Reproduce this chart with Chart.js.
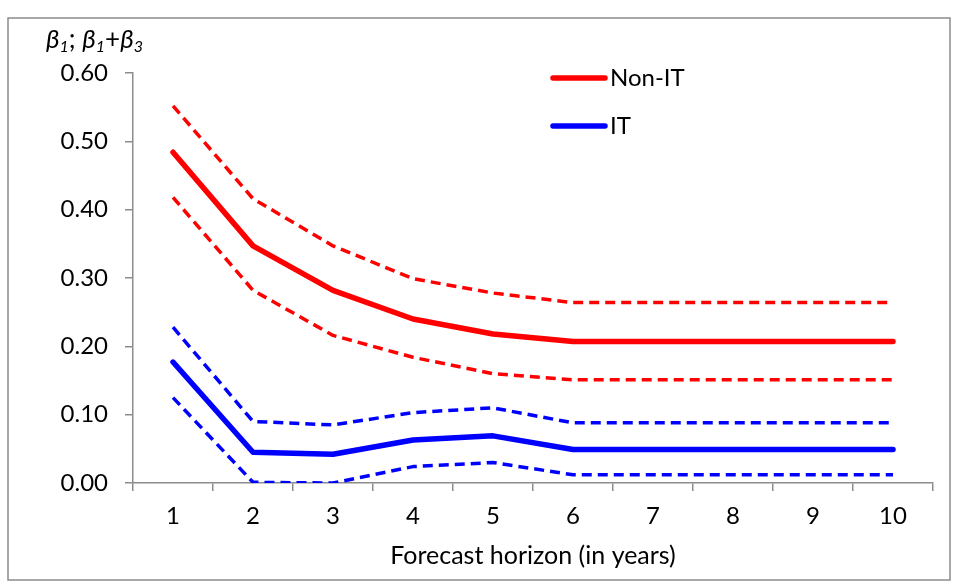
<!DOCTYPE html>
<html lang="en">
<head>
  <meta charset="UTF-8" />
  <title>Forecast horizon chart</title>
  <script src="https://cdn.jsdelivr.net/npm/chart.js"></script>
  <style>
    html, body { margin: 0; padding: 0; background: #fff; }
    #wrap { width: 956px; height: 582px; position: relative; }
  </style>
</head>
<body>
  <div id="wrap"><canvas id="chart" width="956" height="582"></canvas></div>

  <script>
    // categories (forecast horizon, years)
    const horizons = ["1", "2", "3", "4", "5", "6", "7", "8", "9", "10"];
    const yTicks = [0, 0.1, 0.2, 0.3, 0.4, 0.5, 0.6];

    // Non-IT coefficient and its band
    const nonIT      = [0.484, 0.347, 0.282, 0.240, 0.218, 0.207, 0.207, 0.207, 0.207, 0.207];
    const nonITUpper = [0.552, 0.416, 0.347, 0.299, 0.278, 0.264, 0.264, 0.264, 0.264, 0.264];
    const nonITLower = [0.418, 0.282, 0.216, 0.184, 0.160, 0.151, 0.151, 0.151, 0.151, 0.151];

    // IT coefficient and its band
    const it      = [0.177, 0.045, 0.042, 0.063, 0.069, 0.049, 0.049, 0.049, 0.049, 0.049];
    const itUpper = [0.228, 0.090, 0.085, 0.103, 0.110, 0.088, 0.088, 0.088, 0.088, 0.088];
    const itLower = [0.125, 0.001, 0.000, 0.024, 0.030, 0.012, 0.012, 0.012, 0.012, 0.012];

    const RED = "#ff0000";
    const BLUE = "#0000ff";
    const FONT = "Lato, 'Open Sans', sans-serif";

    function solid(label, data, color) {
      return { label, data, borderColor: color, backgroundColor: color,
               borderWidth: 5.5, pointRadius: 0, tension: 0,
               borderJoinStyle: "round", borderCapStyle: "round", inLegend: true };
    }
    function dashed(label, data, color) {
      return { label, data, borderColor: color, backgroundColor: color,
               borderWidth: 3.5, borderDash: [10, 6], pointRadius: 0, tension: 0,
               borderJoinStyle: "round" };
    }

    // frame, axis titles and the in-plot legend
    const decor = {
      id: "decor",
      afterDraw(chart) {
        const ctx = chart.ctx;
        ctx.save();

        // outer frame
        ctx.strokeStyle = "#8c8c8c";
        ctx.lineWidth = 1.5;
        ctx.strokeRect(8, 18, 942, 562);

        // y title: β1; β1+β3
        ctx.fillStyle = "#000";
        ctx.textBaseline = "alphabetic";
        let x = 46;
        const base = 48;
        const parts = [
          ["β", "italic 26px " + FONT, 0], ["1", "italic 16px " + FONT, 4],
          ["; ", "26px " + FONT, 0],
          ["β", "italic 26px " + FONT, 0], ["1", "italic 16px " + FONT, 4],
          ["+", "26px " + FONT, 0],
          ["β", "italic 26px " + FONT, 0], ["3", "italic 16px " + FONT, 4]
        ];
        parts.forEach(([t, f, dy]) => {
          ctx.font = f;
          ctx.fillText(t, x, base + dy);
          x += ctx.measureText(t).width;
        });

        // x title
        ctx.font = "25px " + FONT;
        ctx.textAlign = "center";
        ctx.textBaseline = "middle";
        const area = chart.chartArea;
        ctx.fillText("Forecast horizon (in years)", (area.left + area.right) / 2, 556);

        // legend
        ctx.font = "24px " + FONT;
        ctx.textAlign = "left";
        const items = chart.data.datasets.filter(d => d.inLegend);
        items.forEach((d, i) => {
          const y = 78 + i * 48;
          ctx.strokeStyle = d.borderColor;
          ctx.lineWidth = 5.5;
          ctx.lineCap = "round";
          ctx.beginPath();
          ctx.moveTo(553, y);
          ctx.lineTo(605, y);
          ctx.stroke();
          ctx.fillStyle = "#000";
          ctx.fillText(d.label, 610, y);
        });

        ctx.restore();
      }
    };

    new Chart(document.getElementById("chart"), {
      type: "line",
      data: {
        labels: horizons,
        datasets: [
          solid("Non-IT", nonIT, RED),
          dashed("Non-IT upper", nonITUpper, RED),
          dashed("Non-IT lower", nonITLower, RED),
          solid("IT", it, BLUE),
          dashed("IT upper", itUpper, BLUE),
          dashed("IT lower", itLower, BLUE)
        ]
      },
      options: {
        responsive: false,
        animation: false,
        devicePixelRatio: 1,
        layout: { padding: { left: 0, right: 23, top: 73, bottom: 0 } },
        plugins: {
          legend: { display: false },
          tooltip: { enabled: false }
        },
        scales: {
          x: {
            offset: true,
            grid: { offset: true, drawOnChartArea: false, drawTicks: true,
                    tickLength: 8, color: "#8c8c8c", lineWidth: 1.5 },
            border: { color: "#8c8c8c", width: 1.5 },
            ticks: { color: "#000", font: { family: FONT, size: 24 }, padding: 11,
                     maxRotation: 0, autoSkip: false },
            afterFit: s => { s.height = 99; }
          },
          y: {
            min: 0,
            max: 0.6,
            afterBuildTicks: s => { s.ticks = yTicks.map(v => ({ value: v })); },
            grid: { drawOnChartArea: false, drawTicks: true, tickLength: 8,
                    color: "#8c8c8c", lineWidth: 1.5 },
            border: { color: "#8c8c8c", width: 1.5 },
            ticks: { color: "#000", font: { family: FONT, size: 24 }, padding: 17,
                     callback: v => Number(v).toFixed(2) },
            afterFit: s => { s.width = 133; }
          }
        }
      },
      plugins: [decor]
    });
  </script>
</body>
</html>
